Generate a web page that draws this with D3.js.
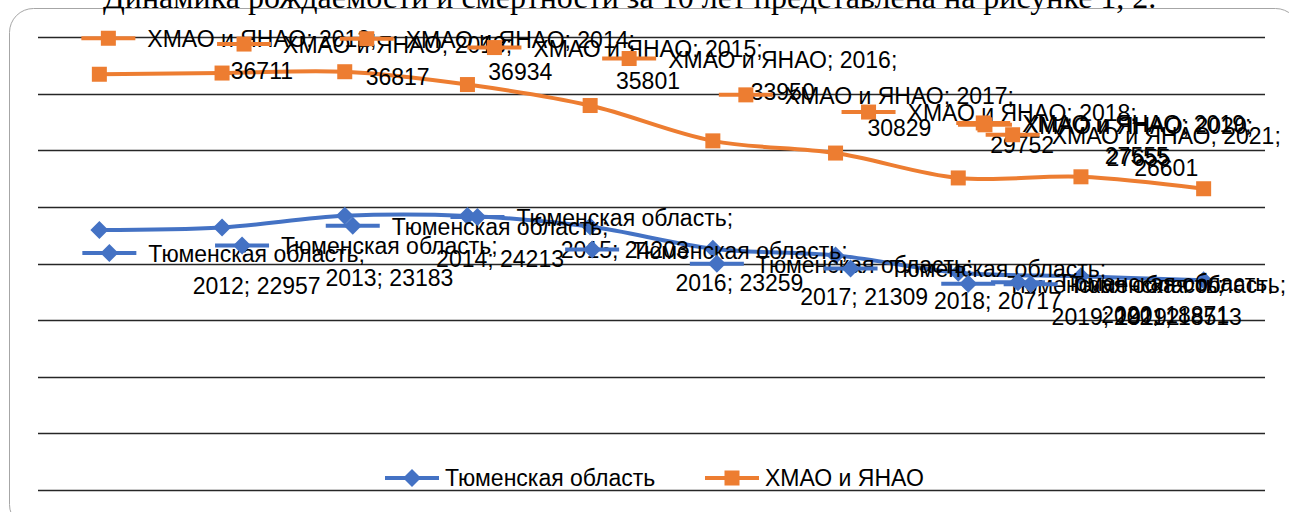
<!DOCTYPE html>
<html>

<head>
  <meta charset='utf-8'>
  <script src='https://d3js.org/d3.v7.min.js'></script>
  <style>
    body {
      margin: 0;
      background: white;
    }

    text {
      font-family: 'Liberation Sans', Arial, sans-serif;
    }
  </style>
</head>

<body>
  <script type='text/javascript'>
    'use strict';

    // chart values
    var years = ['2012', '2013', '2014', '2015', '2016', '2017', '2018', '2019', '2020', '2021'];
    var tyumen = [22957, 23183, 24213, 24203, 23259, 21309, 20717, 19192, 18871, 18513];
    var khmao = [36711, 36817, 36934, 35801, 33950, 30829, 29752, 27555, 27655, 26601];
    var yTicks = [0, 5000, 10000, 15000, 20000, 25000, 30000, 35000, 40000];
    var seriesNames = ['Тюменская область', 'ХМАО и ЯНАО'];
    var title = 'Динамика рождаемости и смертности за 10 лет представлена на рисунке 1, 2.';

    // where each data label was dragged to, relative to its point (px)
    var tyumenShift = [[10, 23], [20, 18], [8, 10], [10, 1], [2, 23], [4, 15], [15, 13], [10, 11], [-63, 6], [-173, 4]];
    var khmaoShift = [[9, -36], [22, -29], [22, -33], [27, -37], [39, -47], [33, -46], [33, -41], [25, -55], [-96, -52], [-191, -54]];

    var width = 1289,
      height = 512;
    var blue = '#4472C4',
      orange = '#ED7D31';

    var svg = d3.select('body')
      .append('svg')
      .attr('width', width)
      .attr('height', height);

    // chart frame
    svg.append('rect')
      .attr('x', 9.5)
      .attr('y', 8.5)
      .attr('width', 1290)
      .attr('height', 520)
      .attr('rx', 24)
      .attr('fill', 'white')
      .attr('stroke', '#a6a6a6');

    var x = d3.scaleBand().domain(years).range([38, 1265]);
    var y = d3.scaleLinear().domain([0, 40000]).range([490, 37]);
    var cx = function(d, i) { return x(years[i]) + x.bandwidth() / 2; };

    // gridlines
    svg.append('g')
      .selectAll('line')
      .data(yTicks)
      .enter()
      .append('line')
      .attr('x1', 38)
      .attr('x2', 1265)
      .attr('y1', function(d) { return Math.round(y(d)) + 0.5; })
      .attr('y2', function(d) { return Math.round(y(d)) + 0.5; })
      .attr('stroke', '#262626')
      .attr('stroke-width', 1.6);

    function marker(sel, kind, color) {
      if (kind === 'diamond') {
        sel.append('path')
          .attr('d', 'M0,-9L9,0L0,9L-9,0Z')
          .attr('fill', color);
      } else {
        sel.append('rect')
          .attr('x', -7.5).attr('y', -7.5)
          .attr('width', 15).attr('height', 15)
          .attr('fill', color);
      }
    }

    function legendKey(g, kind, color) {
      g.append('line')
        .attr('x1', -27).attr('x2', 27)
        .attr('stroke', color)
        .attr('stroke-width', 4);
      marker(g, kind, color);
    }

    var series = [
      { name: seriesNames[0], values: tyumen, color: blue, kind: 'diamond', shift: tyumenShift },
      { name: seriesNames[1], values: khmao, color: orange, kind: 'square', shift: khmaoShift }
    ];

    var line = d3.line()
      .x(cx)
      .y(function(d) { return y(d); })
      .curve(d3.curveCatmullRom.alpha(0.5));

    series.forEach(function(s) {
      svg.append('path')
        .attr('d', line(s.values))
        .attr('fill', 'none')
        .attr('stroke', s.color)
        .attr('stroke-width', 4)
        .attr('stroke-linecap', 'round');
      s.values.forEach(function(v, i) {
        var g = svg.append('g')
          .attr('transform', 'translate(' + cx(v, i) + ',' + y(v) + ')');
        marker(g, s.kind, s.color);
      });
    });

    /*
      data labels: legend key + 'name; year;' / value
    */
    series.forEach(function(s) {
      s.values.forEach(function(v, i) {
        var kx = cx(v, i) + s.shift[i][0],
          ky = y(v) + s.shift[i][1];
        var g = svg.append('g').attr('transform', 'translate(' + kx + ',' + ky + ')');
        legendKey(g, s.kind, s.color);
        var first, second;
        if (s.kind === 'diamond') {
          first = s.name + ';';
          second = years[i] + '; ' + v;
        } else {
          first = s.name + '; ' + years[i] + ';';
          second = String(v);
        }
        var t1 = g.append('text')
          .attr('x', 39)
          .attr('y', 9)
          .style('font-size', '23px')
          .attr('fill', '#000')
          .text(first);
        var w = t1.node().getComputedTextLength();
        g.append('text')
          .attr('x', 39 + w / 2)
          .attr('y', 41)
          .attr('text-anchor', 'middle')
          .style('font-size', '23px')
          .attr('fill', '#000')
          .text(second);
      });
    });

    // legend
    var legX = [412, 732];
    series.forEach(function(s, i) {
      var g = svg.append('g').attr('transform', 'translate(' + legX[i] + ',478)');
      legendKey(g, s.kind, s.color);
      g.append('text')
        .attr('x', 33)
        .attr('y', 8)
        .style('font-size', '23px')
        .attr('fill', '#000')
        .text(s.name);
    });

    // caption of the document, cut off by the frame top
    svg.append('text')
      .attr('x', 103)
      .attr('y', 8)
      .style('font-family', "'Liberation Serif', 'Times New Roman', serif")
      .style('font-size', '32px')
      .attr('fill', '#000')
      .text(title);
  </script>
</body>

</html>
